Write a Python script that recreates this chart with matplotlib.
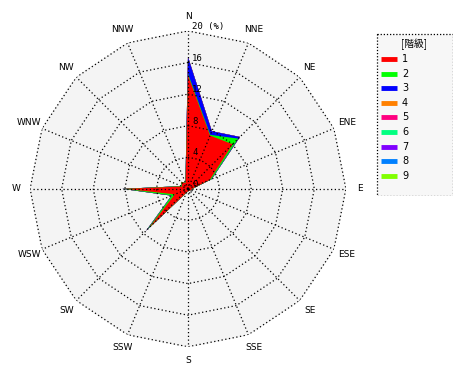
import numpy as np
import matplotlib
matplotlib.use("Agg")
import matplotlib.pyplot as plt
from matplotlib.patches import Rectangle
from matplotlib.lines import Line2D

# ── data ──────────────────────────────────────────────────────────────────────
directions = ["N", "NNE", "NE", "ENE", "E", "ESE", "SE", "SSE",
              "S", "SSW", "SW", "WSW", "W", "WNW", "NW", "NNW"]
class_labels = ["1", "2", "3", "4", "5", "6", "7", "8", "9"]
class_colors = ["#ff0000", "#00ff00", "#0000ff", "#ff8000", "#ff0080",
                "#00ff80", "#8000ff", "#0080ff", "#80ff00"]

c1 = [14.4, 7.3, 8.0, 3.0, 0.5, 0.4, 0.3, 0.3, 0.3, 0.5, 7.0, 1.8, 8.0, 0.8, 1.2, 0.8]
c2 = [0.2, 0.1, 1.0, 0.2, 0.05, 0.0, 0.0, 0.0, 0.0, 0.05, 0.3, 0.4, 0.2, 0.1, 0.05, 0.05]
c3 = [2.1, 0.5, 0.3, 0.05, 0.0, 0.0, 0.0, 0.0, 0.0, 0.0, 0.2, 0.05, 0.1, 0.0, 0.0, 0.0]
c4 = [0.0] * 16
c5 = [0.0] * 16
c6 = [0.0] * 16
c7 = [0.0] * 16
c8 = [0.0] * 16
c9 = [0.0] * 16
series = [c1, c2, c3, c4, c5, c6, c7, c8, c9]

ring_values = [4, 8, 12, 16, 20]
ring_labels = ["4", "8", "12", "16", "20 (%)"]
legend_title = "[階級]"

# ── figure ────────────────────────────────────────────────────────────────────
fig = plt.figure(figsize=(4.7, 3.8), dpi=100)
ax = fig.add_axes([0.064, 0.087, 0.672, 0.832], projection="polar")
ax.set_theta_zero_location("N")
ax.set_theta_direction(-1)
ax.set_ylim(0, 20)
ax.grid(False)
ax.set_xticks([])
ax.set_yticks([])
ax.spines["polar"].set_visible(False)
ax.set_facecolor("none")

theta = np.deg2rad(np.arange(16) * 22.5)
theta_c = np.append(theta, theta[0])

# background 16-gon
ax.fill(theta_c, [20] * 17, color="#f4f4f4", zorder=0)

# stacked areas: draw cumulative totals from top class down
cum = np.cumsum(np.array(series), axis=0)
for k in range(len(series) - 1, -1, -1):
    r = np.append(cum[k], cum[k][0])
    ax.fill(theta_c, r, color=class_colors[k], lw=0, zorder=2)

# polygon rings and spokes
for rv in ring_values:
    ax.plot(theta_c, [rv] * 17, color="black", lw=0.9, ls=(0, (1, 2)), zorder=3)
for t in theta:
    ax.plot([t, t], [0, 20], color="black", lw=0.9, ls=(0, (1, 2)), zorder=3)

# direction labels
for t, d in zip(theta, directions):
    ax.text(t, 21.8, d, ha="center", va="center", fontsize=6.5,
            family="DejaVu Sans")

# ring labels
ax.annotate("0", xy=(0, 0), xytext=(3, 0), textcoords="offset points",
            fontsize=6.5, family="DejaVu Sans Mono", ha="left", va="bottom", zorder=4)
for rv, lab in zip(ring_values, ring_labels):
    ax.annotate(lab, xy=(0, rv), xytext=(3, 0), textcoords="offset points",
                fontsize=6.5, family="DejaVu Sans Mono", ha="left", va="bottom", zorder=4)

# ── legend ────────────────────────────────────────────────────────────────────
lax = fig.add_axes([376 / 470, 1 - 196 / 380, 77 / 470, 163 / 380])
lax.set_xlim(0, 77)
lax.set_ylim(163, 0)
lax.axis("off")
lax.add_patch(Rectangle((0.5, 0.5), 76, 162, facecolor="#f7f7f7", edgecolor="black",
                        lw=0.9, ls=(0, (1, 1.5))))
lax.text(38.5, 11, legend_title, ha="center", va="center", fontsize=7,
         family=["Noto Sans CJK JP", "DejaVu Sans"])
for i, (lab, col) in enumerate(zip(class_labels, class_colors)):
    y = 26 + i * 14.6
    lax.add_line(Line2D([5, 21], [y, y], color=col, lw=3.5, solid_capstyle="butt"))
    lax.text(26, y, lab, ha="left", va="center", fontsize=7, family="DejaVu Sans")

fig.savefig("out.png", dpi=100)
